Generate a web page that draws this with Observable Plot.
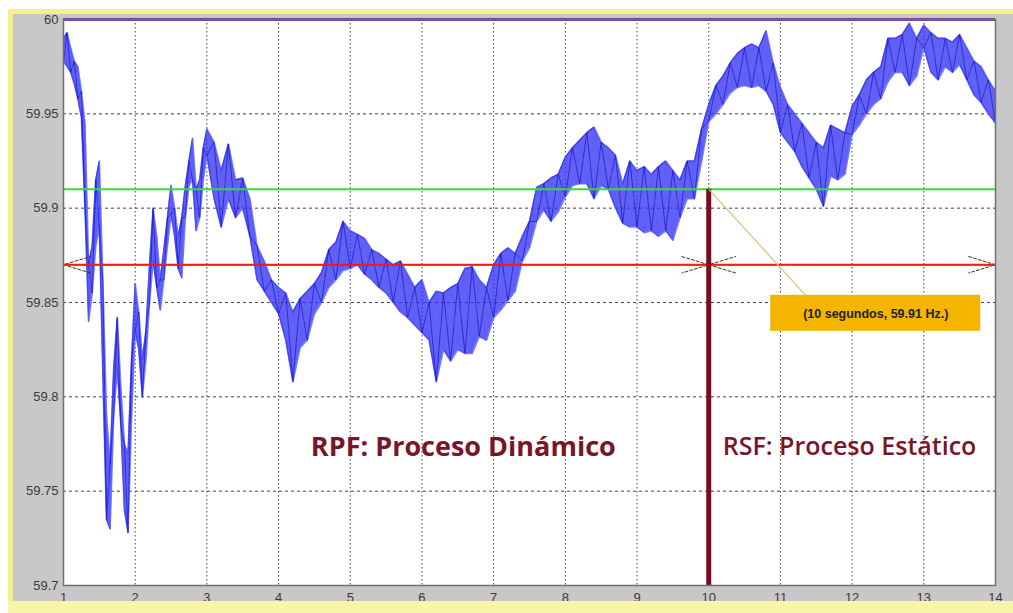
<!DOCTYPE html>
<html>
<head>
<meta charset="utf-8">
<script src="https://cdn.jsdelivr.net/npm/d3@7"></script>
<script src="https://cdn.jsdelivr.net/npm/@observablehq/plot@0.6"></script>
<style>
  html, body { margin: 0; padding: 0; background: #ffffff; }
  #wrap { position: relative; width: 1013px; height: 613px; overflow: hidden; }
  #wrap svg { position: absolute; left: 0; top: 0; }
  .deco { position: absolute; pointer-events: none; }
</style>
</head>
<body>
<div id="wrap"></div>
<script>
// ---- data ----
const time = [
  1.00,1.05,1.10,1.15,1.20,1.25,1.30,1.35,1.40,1.45,1.50,1.55,1.60,1.65,1.70,1.75,1.80,1.85,1.90,1.95,
  2.00,2.05,2.10,2.15,2.20,2.25,2.30,2.35,2.40,2.45,2.50,2.55,2.60,2.65,2.70,2.75,2.80,2.85,2.90,2.95,
  3.0,3.1,3.2,3.3,3.4,3.5,3.6,3.7,3.8,3.9,4.0,4.1,4.2,4.3,4.4,4.5,4.6,4.7,4.8,4.9,
  5.0,5.1,5.2,5.3,5.4,5.5,5.6,5.7,5.8,5.9,6.0,6.1,6.2,6.3,6.4,6.5,6.6,6.7,6.8,6.9,
  7.0,7.1,7.2,7.3,7.4,7.5,7.6,7.7,7.8,7.9,8.0,8.1,8.2,8.3,8.4,8.5,8.6,8.7,8.8,8.9,
  9.0,9.1,9.2,9.3,9.4,9.5,9.6,9.7,9.8,9.9,10.0,10.1,10.2,10.3,10.4,10.5,10.6,10.7,10.8,10.9,
  11.0,11.1,11.2,11.3,11.4,11.5,11.6,11.7,11.8,11.9,12.0,12.1,12.2,12.3,12.4,12.5,12.6,12.7,12.8,12.9,
  13.0,13.1,13.2,13.3,13.4,13.5,13.6,13.7,13.8,13.9,14.0
];
const freqLow = [
  59.978,59.975,59.972,59.966,59.958,59.948,59.900,59.840,59.855,59.880,59.890,59.810,59.735,59.730,59.790,59.815,59.785,59.740,59.728,59.790,
  59.835,59.825,59.800,59.820,59.850,59.872,59.858,59.846,59.862,59.880,59.897,59.885,59.868,59.863,59.895,59.912,59.915,59.888,59.895,59.915,
  59.928,59.905,59.890,59.905,59.895,59.900,59.885,59.862,59.856,59.850,59.844,59.830,59.808,59.826,59.830,59.844,59.850,59.858,59.862,59.867,
  59.868,59.870,59.865,59.862,59.858,59.855,59.850,59.845,59.842,59.838,59.834,59.830,59.808,59.825,59.819,59.825,59.823,59.823,59.832,59.830,
  59.842,59.846,59.851,59.856,59.872,59.879,59.893,59.899,59.893,59.898,59.906,59.912,59.913,59.913,59.905,59.912,59.910,59.900,59.892,59.890,
  59.890,59.887,59.888,59.885,59.888,59.883,59.895,59.905,59.905,59.925,59.946,59.950,59.955,59.961,59.964,59.965,59.964,59.965,59.962,59.955,
  59.940,59.935,59.930,59.922,59.916,59.910,59.901,59.917,59.915,59.918,59.939,59.944,59.950,59.955,59.958,59.967,59.972,59.972,59.965,59.970,
  59.985,59.972,59.968,59.975,59.972,59.976,59.968,59.960,59.956,59.950,59.945
];
const freqHigh = [
  59.990,59.993,59.985,59.978,59.975,59.962,59.945,59.870,59.880,59.915,59.925,59.860,59.790,59.765,59.815,59.842,59.805,59.775,59.770,59.820,
  59.860,59.845,59.820,59.835,59.870,59.900,59.885,59.862,59.878,59.895,59.912,59.900,59.885,59.895,59.912,59.925,59.937,59.910,59.915,59.932,
  59.942,59.935,59.920,59.934,59.915,59.916,59.905,59.880,59.872,59.862,59.858,59.855,59.845,59.852,59.856,59.860,59.866,59.878,59.882,59.893,
  59.888,59.886,59.884,59.878,59.876,59.873,59.870,59.872,59.865,59.858,59.862,59.850,59.856,59.855,59.858,59.860,59.868,59.869,59.862,59.858,
  59.870,59.876,59.879,59.876,59.885,59.893,59.911,59.913,59.916,59.918,59.927,59.932,59.936,59.940,59.943,59.935,59.932,59.928,59.913,59.925,
  59.920,59.922,59.918,59.922,59.925,59.920,59.915,59.925,59.925,59.942,59.955,59.965,59.970,59.977,59.982,59.985,59.987,59.985,59.994,59.977,
  59.964,59.955,59.950,59.945,59.940,59.935,59.932,59.944,59.942,59.940,59.954,59.960,59.968,59.972,59.975,59.990,59.990,59.992,59.998,59.990,
  59.997,59.993,59.990,59.990,59.988,59.992,59.985,59.978,59.975,59.968,59.962
];
const xTicks = [1,2,3,4,5,6,7,8,9,10,11,12,13,14];
const yTicks = [59.7,59.75,59.8,59.85,59.9,59.95,60];
const yTickLabels = ["59.7","59.75","59.8","59.85","59.9","59.95","60"];
const topLevel = [60];
const thresholdFreq = [59.91];     // green line
const referenceFreq = [59.87];     // red line
const eventTime = 10;
const eventFreq = 59.91;
const arrowStops = [1, 10, 14];
const annotationText = "(10 segundos, 59.91 Hz.)";
const regionLabels = ["RPF: Proceso Dinámico", "RSF: Proceso Estático"];

// ---- build tables ----
const band = time.map((t, i) => ({t, lo: freqLow[i], hi: freqHigh[i]}));
const zig = time.map((t, i) => ({t, v: i % 2 === 0 ? freqLow[i] : freqHigh[i]}));
const zig2 = time.map((t, i) => ({t, v: i % 2 === 0 ? freqHigh[i] : freqLow[i]}));
const arrows = [];
for (let i = 0; i < arrowStops.length - 1; i++) {
  arrows.push({a: arrowStops[i], b: arrowStops[i + 1]});
  arrows.push({a: arrowStops[i + 1], b: arrowStops[i]});
}
const ev = [{t: eventTime, f: eventFreq}];

const W = 1013, H = 613, mL = 63, mR = 18, mT = 19, mB = 28;
const xDom = [xTicks[0], xTicks[xTicks.length - 1]];
const yDom = [yTicks[0], yTicks[yTicks.length - 1]];
const pxX = (W - mL - mR) / (xDom[1] - xDom[0]);
const pxY = (H - mT - mB) / (yDom[1] - yDom[0]);

const chart = Plot.plot({
  width: W, height: H,
  marginLeft: mL, marginRight: mR, marginTop: mT, marginBottom: mB,
  style: {background: "#c8c8c8", fontFamily: "Liberation Sans, Arial, sans-serif", fontSize: "13px", color: "#3a3a3a"},
  x: {domain: xDom, ticks: xTicks, tickSize: 0, tickPadding: 7, label: null, tickFormat: d => String(d)},
  y: {domain: yDom, ticks: yTicks, tickSize: 0, tickPadding: 5, label: null,
      tickFormat: d => yTickLabels[yTicks.indexOf(d)]},
  marks: [
    Plot.frame({fill: "white"}),
    Plot.ruleX(xTicks.slice(1, -1), {stroke: "#444", strokeDasharray: "1.5,2.5", strokeWidth: 1}),
    Plot.ruleY(yTicks.slice(1, -1), {stroke: "#444", strokeDasharray: "3,3", strokeWidth: 1}),
    Plot.line(band, {x: "t", y: "lo", stroke: "#7a7aff", strokeWidth: 1.6}),
    Plot.line(band, {x: "t", y: "hi", stroke: "#7a7aff", strokeWidth: 1.6}),
    Plot.areaY(band, {x: "t", y1: "lo", y2: "hi", fill: "#2c2cf0", fillOpacity: 0.75}),
    Plot.line(zig, {x: "t", y: "v", stroke: "#1212cc", strokeWidth: 0.8, strokeOpacity: 0.85}),
    Plot.line(zig2, {x: "t", y: "v", stroke: "#5a5aff", strokeWidth: 0.7, strokeOpacity: 0.7}),
    Plot.ruleY(thresholdFreq, {stroke: "#33dd33", strokeWidth: 2}),
    Plot.arrow(arrows, {x1: "a", x2: "b", y1: () => referenceFreq[0], y2: () => referenceFreq[0],
      stroke: "#5a2a10", strokeWidth: 1, strokeDasharray: "3,2", headLength: 42, headAngle: 34}),
    Plot.ruleY(referenceFreq, {stroke: "#ee1c1c", strokeWidth: 2}),
    Plot.ruleX(ev, {x: "t", y1: yDom[0], y2: "f", stroke: "#7f0a1e", strokeWidth: 5}),
    Plot.link(ev, {x1: "t", y1: "f", x2: d => d.t + 97 / pxX, y2: d => d.f - 106 / pxY,
      stroke: "#d9c27a", strokeWidth: 1.2}),
    Plot.rect(ev, {x1: "t", x2: "t", y1: "f", y2: "f", insetLeft: -105, insetRight: -105,
      insetTop: -18, insetBottom: -18, dx: 167, dy: 124, fill: "#f5b400"}),
    Plot.text(ev, {x: "t", y: "f", dx: 167, dy: 125, text: () => annotationText,
      fontWeight: "bold", fontSize: 12.5, fill: "#222", fontFamily: "Liberation Sans, Arial, sans-serif"}),
    Plot.text(ev, {x: "t", y: "f", dx: -93, dy: 258, text: () => regionLabels[0], textAnchor: "end",
      fontWeight: "bold", fontSize: 27, fill: "#7a1428", fontFamily: "Open Sans, sans-serif"}),
    Plot.text(ev, {x: "t", y: "f", dx: 14, dy: 258, text: () => regionLabels[1], textAnchor: "start",
      fontWeight: 600, fontSize: 25, fill: "#7a1428", fontFamily: "Open Sans, sans-serif"}),
    Plot.ruleY(topLevel, {stroke: "#6a3fa0", strokeWidth: 3}),
    Plot.frame({stroke: "#707070", strokeWidth: 1.5})
  ]
});
const wrap = document.getElementById("wrap");
wrap.appendChild(chart);
// decorative frame of the original screenshot
const decos = [
  {l: 0, t: 0, w: 1013, h: 9, c: "#ffffff"},
  {l: 0, t: 0, w: 8, h: 613, c: "#ffffff"},
  {l: 8, t: 9, w: 1005, h: 5, c: "#f6f08a"},
  {l: 8, t: 9, w: 5, h: 594, c: "#f6f08a"},
  {l: 8, t: 601, w: 1005, h: 12, c: "#f8f4a8"}
];
for (const d of decos) {
  const el = document.createElement("div");
  el.className = "deco";
  el.style.cssText = `left:${d.l}px;top:${d.t}px;width:${d.w}px;height:${d.h}px;background:${d.c}`;
  wrap.appendChild(el);
}
</script>
</body>
</html>
